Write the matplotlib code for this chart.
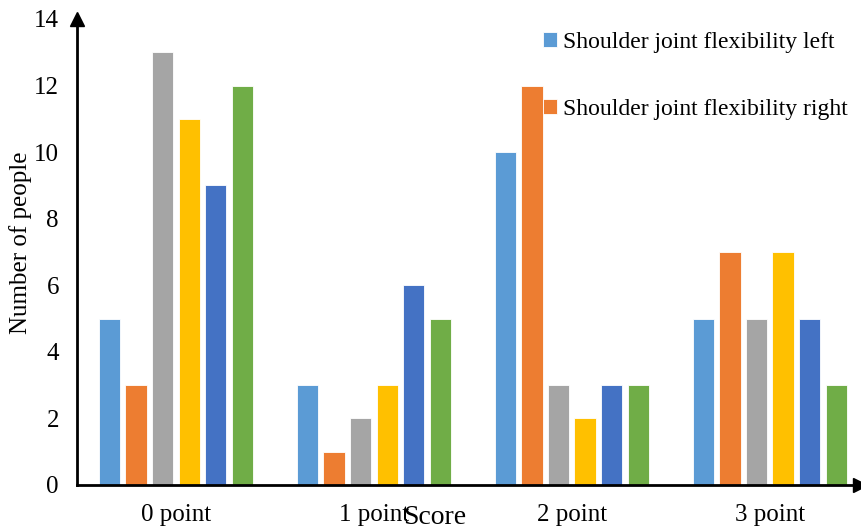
import numpy as np
import matplotlib
matplotlib.use("Agg")
import matplotlib.pyplot as plt

plt.rcParams['font.family'] = ['Liberation Serif', 'DejaVu Serif']

# scores on the x axis
categories = ["0 point", "1 point", "2 point", "3 point"]

# six series per score group (only the first two are named in the legend)
series_names = ["Shoulder joint flexibility left", "Shoulder joint flexibility right",
                "Series 3", "Series 4", "Series 5", "Series 6"]
s1 = [5, 3, 10, 5]
s2 = [3, 1, 12, 7]
s3 = [13, 2, 3, 5]
s4 = [11, 3, 2, 7]
s5 = [9, 6, 3, 5]
s6 = [12, 5, 3, 3]
values = [s1, s2, s3, s4, s5, s6]

colors = ["#5B9BD5", "#ED7D31", "#A5A5A5", "#FFC000", "#4472C4", "#70AD47"]
yticks = [0, 2, 4, 6, 8, 10, 12, 14]

fig = plt.figure(figsize=(8.61, 5.26), dpi=100)
ax = fig.add_axes([0.0894, 0.078, 0.9094, 0.886])

x = np.arange(len(categories))
step = 0.134
width = 0.108
bars = []
for i, (vals, col) in enumerate(zip(values, colors)):
    off = (i - 2.5) * step
    b = ax.bar(x + off, vals, width, color=col, edgecolor="white", linewidth=0.6,
               label=series_names[i])
    bars.append(b)

ax.set_xlim(-0.5, 3.455)
ax.set_ylim(0, 14)
ax.set_xticks(x)
ax.set_xticklabels(categories, fontsize=18)
ax.set_yticks(yticks)
ax.set_yticklabels([str(t) for t in yticks], fontsize=18)
ax.tick_params(length=0)
ax.tick_params(axis='y', pad=13)
ax.tick_params(axis='x', pad=14)

for side in ["top", "right"]:
    ax.spines[side].set_visible(False)
for side in ["left", "bottom"]:
    ax.spines[side].set_linewidth(2)
    ax.spines[side].set_color("black")

# arrow heads at the ends of the axes
ax.plot(0, 1, marker="^", markersize=10, color="black", transform=ax.transAxes, clip_on=False)
ax.plot(1, 0, marker=">", markersize=10, color="black", transform=ax.transAxes, clip_on=False)

ax.set_ylabel("Number of people", fontsize=18)
ax.yaxis.set_label_coords(-0.057, 0.52)
ax.set_xlabel("Score", fontsize=20)
ax.xaxis.set_label_coords(0.457, -0.043)

ax.legend(handles=bars[:2], loc="upper left", bbox_to_anchor=(0.568, 1.018), frameon=False,
          fontsize=17, handlelength=0.6, handleheight=0.6, handletextpad=0.25,
          labelspacing=1.95)

fig.savefig("out.png", dpi=100)
